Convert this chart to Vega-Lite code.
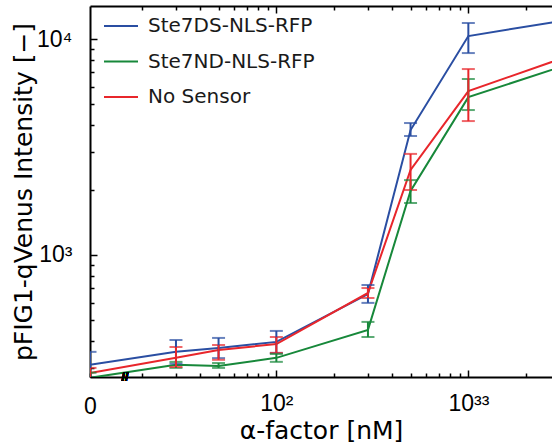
{
  "$schema": "https://vega.github.io/schema/vega-lite/v6.json",
  "width": 462,
  "height": 371,
  "autosize": {"type": "none"},
  "padding": {"left": 90, "top": 6, "right": 0, "bottom": 68},
  "background": "white",
  "config": {
    "font": "Liberation Sans",
    "view": {"stroke": null},
    "axis": {
      "domainColor": "black", "domainWidth": 2, "tickColor": "black", "tickWidth": 1.5,
      "labelColor": "black", "titleColor": "black", "labelFont": "Liberation Sans",
      "titleFont": "DejaVu Sans", "labelFontSize": 23, "titleFontSize": 25,
      "titleFontWeight": "normal", "grid": false, "labelOverlap": false, "labelBound": false, "labelFlush": false
    },
    "legend": {
      "orient": "none", "legendX": 13, "legendY": 2, "padding": 0,
      "labelFont": "DejaVu Sans", "labelFontSize": 20, "labelColor": "#1a1a1a", "labelLimit": 0,
      "symbolType": "stroke", "symbolSize": 1156, "symbolStrokeWidth": 2,
      "labelOffset": 9, "rowPadding": 7.5
    }
  },
  "datasets": {
    "pts": [
      {"sensor": "Ste7DS-NLS-RFP", "dose": 10.7, "mean": 310, "lo": 270, "hi": 356},
      {"sensor": "Ste7DS-NLS-RFP", "dose": 30, "mean": 356, "lo": 314, "hi": 404},
      {"sensor": "Ste7DS-NLS-RFP", "dose": 50, "mean": 371, "lo": 333, "hi": 413},
      {"sensor": "Ste7DS-NLS-RFP", "dose": 100, "mean": 396, "lo": 352, "hi": 445},
      {"sensor": "Ste7DS-NLS-RFP", "dose": 300, "mean": 659, "lo": 600, "hi": 726},
      {"sensor": "Ste7DS-NLS-RFP", "dose": 500, "mean": 3790, "lo": 3556, "hi": 4083},
      {"sensor": "Ste7DS-NLS-RFP", "dose": 1000, "mean": 10320, "lo": 8610, "hi": 11860},
      {"sensor": "Ste7DS-NLS-RFP", "dose": 3000, "mean": 12100, "lo": 9570, "hi": 15000},
      {"sensor": "Ste7ND-NLS-RFP", "dose": 10.7, "mean": 270, "lo": 255, "hi": 285},
      {"sensor": "Ste7ND-NLS-RFP", "dose": 30, "mean": 310, "lo": 300, "hi": 320},
      {"sensor": "Ste7ND-NLS-RFP", "dose": 50, "mean": 306, "lo": 300, "hi": 316},
      {"sensor": "Ste7ND-NLS-RFP", "dose": 100, "mean": 334, "lo": 320, "hi": 348},
      {"sensor": "Ste7ND-NLS-RFP", "dose": 300, "mean": 450, "lo": 417, "hi": 490},
      {"sensor": "Ste7ND-NLS-RFP", "dose": 500, "mean": 1978, "lo": 1741, "hi": 2222},
      {"sensor": "Ste7ND-NLS-RFP", "dose": 1000, "mean": 5380, "lo": 4690, "hi": 6530},
      {"sensor": "Ste7ND-NLS-RFP", "dose": 3000, "mean": 7410, "lo": 6500, "hi": 8400},
      {"sensor": "No Sensor", "dose": 10.7, "mean": 284, "lo": 268, "hi": 300},
      {"sensor": "No Sensor", "dose": 30, "mean": 334, "lo": 303, "hi": 375},
      {"sensor": "No Sensor", "dose": 50, "mean": 363, "lo": 327, "hi": 383},
      {"sensor": "No Sensor", "dose": 100, "mean": 387, "lo": 352, "hi": 417},
      {"sensor": "No Sensor", "dose": 300, "mean": 667, "lo": 632, "hi": 703},
      {"sensor": "No Sensor", "dose": 500, "mean": 2477, "lo": 2000, "hi": 2938},
      {"sensor": "No Sensor", "dose": 1000, "mean": 5740, "lo": 4170, "hi": 7260},
      {"sensor": "No Sensor", "dose": 3000, "mean": 8070, "lo": 6500, "hi": 9500}
    ]
  },
  "data": {"name": "pts"},
  "layer": [
    {
      "mark": {"type": "line", "clip": true, "strokeWidth": 2},
      "encoding": {
        "x": {
          "field": "dose", "type": "quantitative",
          "scale": {"type": "log", "domain": [10.7, 2727], "nice": false},
          "axis": {
            "orient": "bottom",
            "title": "α-factor [nM]",
            "values": [10.7, 20, 30, 40, 50, 60, 70, 80, 90, 100, 200, 300, 400, 500, 600, 700, 800, 900, 1000, 2000],
            "labelExpr": "datum.value < 11 ? '0' : datum.value == 100 ? '10²' : datum.value == 1000 ? '10³³' : ''",
            "tickSize": {"condition": {"test": "datum.value == 100 || datum.value == 1000", "value": -7}, "value": -4},
            "labelPadding": 22,
            "titlePadding": 0
          }
        },
        "y": {
          "field": "mean", "type": "quantitative",
          "scale": {"type": "log", "domain": [272.3, 14220], "nice": false},
          "axis": {
            "orient": "left",
            "title": "pFIG1-qVenus Intensity [−]",
            "values": [300, 400, 500, 600, 700, 800, 900, 1000, 2000, 3000, 4000, 5000, 6000, 7000, 8000, 9000, 10000],
            "labelExpr": "datum.value == 1000 ? '10³' : datum.value == 10000 ? '10⁴' : ''",
            "tickSize": {"condition": {"test": "datum.value == 1000 || datum.value == 10000", "value": -7}, "value": -4},
            "labelPadding": 25,
            "titlePadding": 0
          }
        },
        "color": {
          "field": "sensor", "type": "nominal",
          "scale": {"domain": ["Ste7DS-NLS-RFP", "Ste7ND-NLS-RFP", "No Sensor"], "range": ["#2a4ea2", "#17883a", "#e8262b"]},
          "legend": {"title": null}
        }
      }
    },
    {
      "mark": {"type": "errorbar", "clip": true, "thickness": 2, "ticks": {"size": 13}},
      "encoding": {
        "x": {
          "field": "dose", "type": "quantitative",
          "axis": {
            "orient": "top", "title": null, "labels": false,
            "values": [20, 30, 40, 50, 60, 70, 80, 90, 100, 200, 300, 400, 500, 600, 700, 800, 900, 1000, 2000],
            "tickSize": {"condition": {"test": "datum.value == 100 || datum.value == 1000", "value": -7}, "value": -4}
          }
        },
        "y": {"field": "lo", "type": "quantitative", "axis": null},
        "y2": {"field": "hi"},
        "color": {"field": "sensor", "type": "nominal", "legend": null}
      }
    },
    {
      "mark": {"type": "text", "text": "//", "fontSize": 13, "fontWeight": "bold", "baseline": "middle", "align": "center", "color": "black"},
      "encoding": {
        "x": {"datum": 16.3, "type": "quantitative", "axis": null},
        "y": {"datum": 272.3, "type": "quantitative", "axis": null}
      }
    }
  ],
  "resolve": {"axis": {"x": "independent", "y": "independent"}}
}
